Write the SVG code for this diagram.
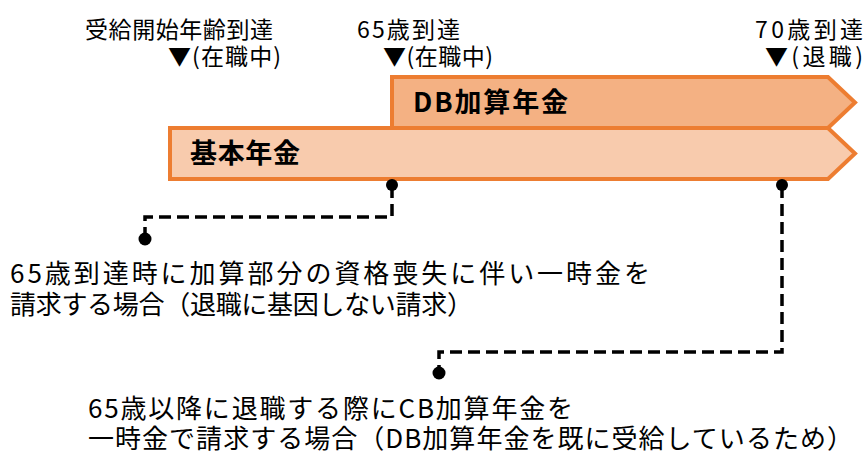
<svg xmlns="http://www.w3.org/2000/svg" width="866" height="454" viewBox="0 0 866 454">
<style>
text{font-family:"Noto Sans CJK JP","Noto Sans",sans-serif;fill:#000}
.top{font-size:23px}
.lbl{font-size:27px;font-weight:bold}
.note{font-size:26px}
.band{stroke:#ED7D31;stroke-width:4;stroke-linejoin:miter}
.conn{fill:none;stroke:#000;stroke-width:3.5;stroke-dasharray:12 6}
.dot{fill:#000}
</style>
<rect width="866" height="454" fill="#fff"/>
<g id="timeline-labels">
<text class="top" x="85" y="38" textLength="188">受給開始年齢到達</text>
<text class="top" x="168" y="65" textLength="113">▼(在職中)</text>
<text class="top" x="357" y="38" textLength="103">65歳到達</text>
<text class="top" x="383" y="65" textLength="110">▼(在職中)</text>
<text class="top" x="755" y="38" textLength="108">70歳到達</text>
<text class="top" x="765" y="65" textLength="98">▼(退職)</text>
</g>
<g id="kihon-nenkin">
<polygon class="band" fill="#F8CBAD" points="170,128 828,128 855,153.5 828,179 170,179"/>
<text class="lbl" x="190" y="163" textLength="110">基本年金</text>
</g>
<g id="db-kasan-nenkin">
<polygon class="band" fill="#F4B183" points="392,77 828,77 855,102.5 828,128 392,128"/>
<text class="lbl" x="413" y="112" textLength="155">DB加算年金</text>
</g>
<g id="connectors">
<polyline class="conn" points="392,186 392,217 145,217 145,236"/>
<circle class="dot" cx="392" cy="185" r="6"/>
<circle class="dot" cx="145" cy="239" r="6.5"/>
<polyline class="conn" points="782,186 782,352 439,352 439,370"/>
<circle class="dot" cx="782" cy="185" r="6"/>
<circle class="dot" cx="439" cy="373" r="6.5"/>
</g>
<g id="note1">
<text class="note" x="10" y="283" textLength="640">65歳到達時に加算部分の資格喪失に伴い一時金を</text>
<text class="note" x="10" y="314" textLength="463">請求する場合（退職に基因しない請求）</text>
</g>
<g id="note2">
<text class="note" x="88" y="418" textLength="485">65歳以降に退職する際にCB加算年金を</text>
<text class="note" x="88" y="448" textLength="765">一時金で請求する場合（DB加算年金を既に受給しているため）</text>
</g>
</svg>
